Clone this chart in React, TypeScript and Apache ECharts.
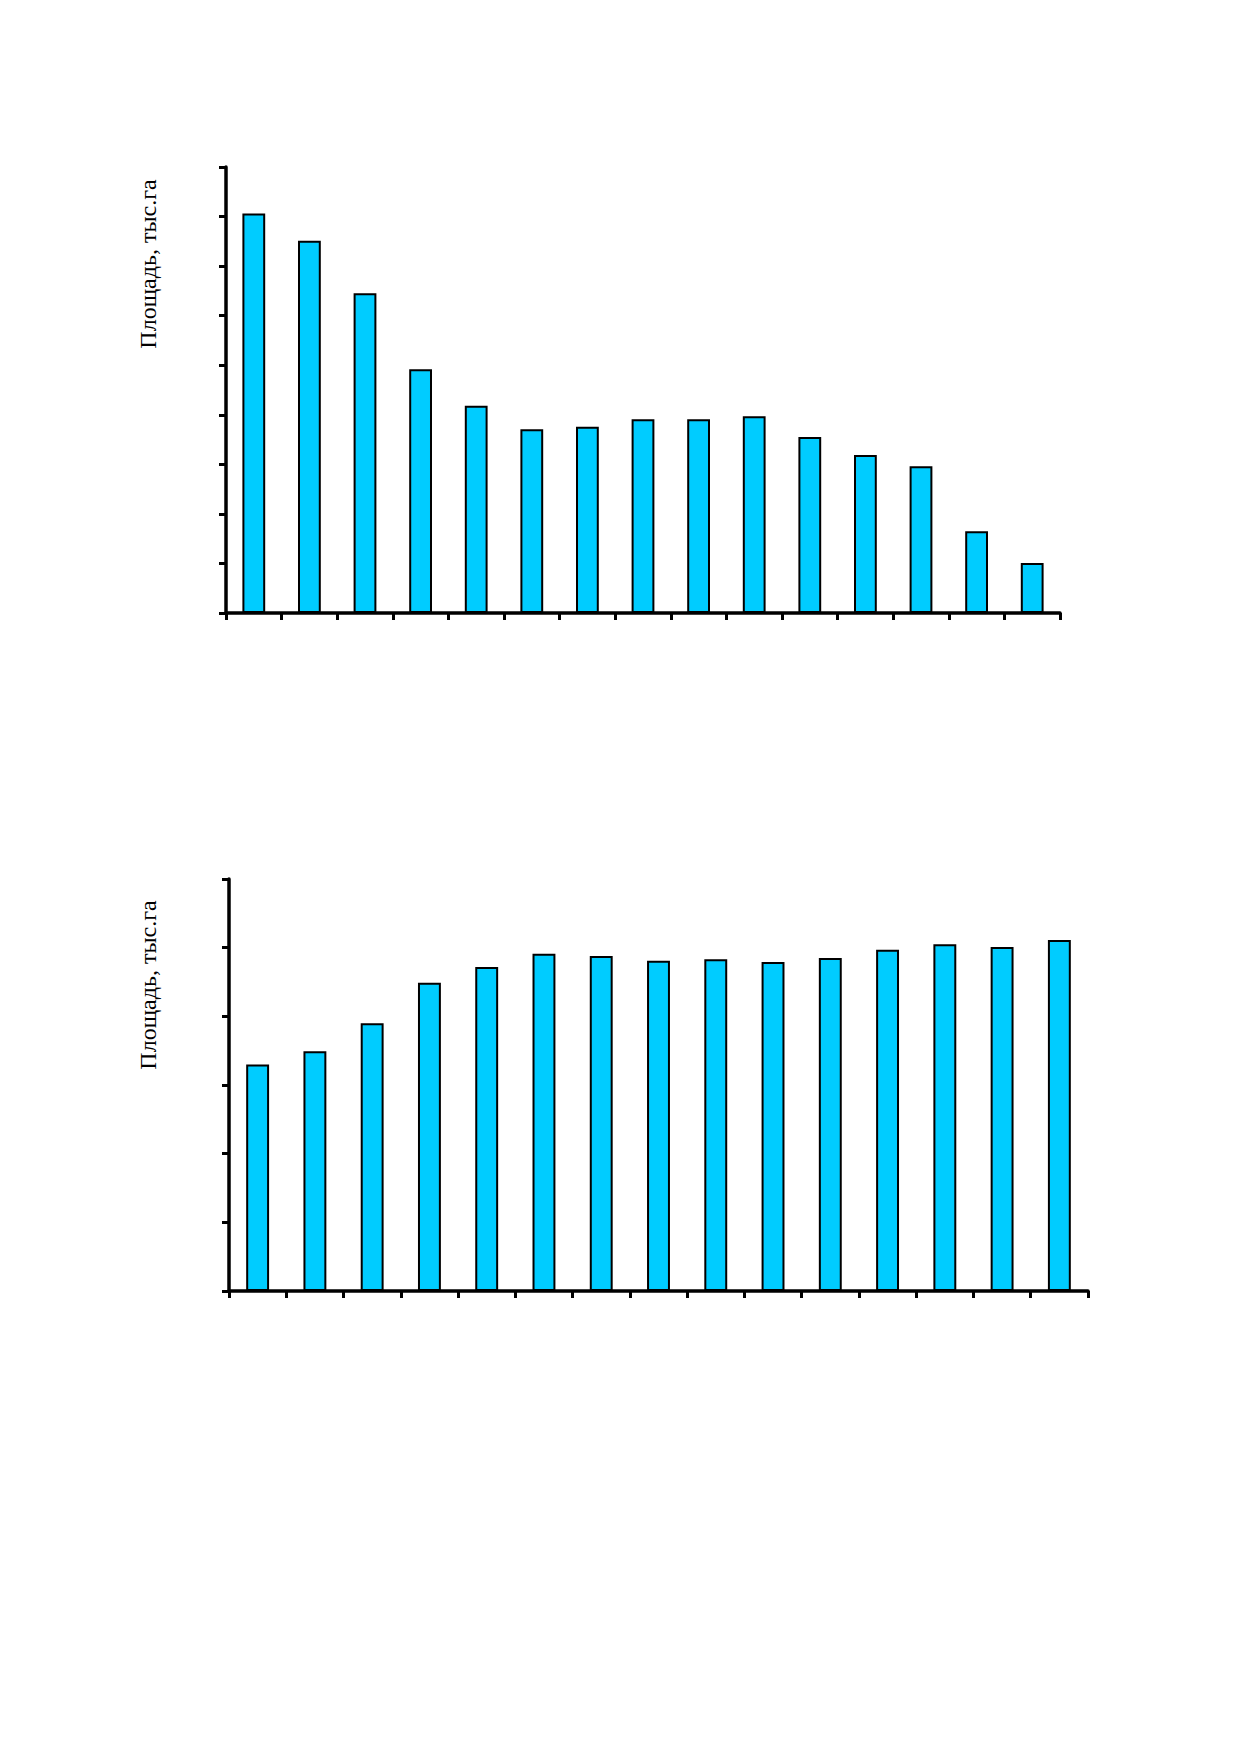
import React, { useEffect, useRef } from "react";
import * as echarts from "echarts";

const categories1 = ["1", "2", "3", "4", "5", "6", "7", "8", "9", "10", "11", "12", "13", "14", "15"];
const values1 = [8.06, 7.51, 6.45, 4.92, 4.18, 3.71, 3.76, 3.91, 3.91, 3.97, 3.55, 3.19, 2.96, 1.65, 1.01];
const categories2 = ["1", "2", "3", "4", "5", "6", "7", "8", "9", "10", "11", "12", "13", "14", "15"];
const values2 = [3.3, 3.49, 3.9, 4.49, 4.72, 4.91, 4.88, 4.81, 4.83, 4.79, 4.85, 4.97, 5.05, 5.01, 5.11];
const yAxisTitle = "Площадь, тыс.га";

const axisLine = { show: true, lineStyle: { color: "#000", width: 3.5 } };
const axisTick = { show: true, inside: false, length: 7, lineStyle: { color: "#000", width: 3 } };

export default function App() {
  const ref = useRef<HTMLDivElement>(null);
  useEffect(() => {
    if (!ref.current) return;
    const chart = echarts.init(ref.current, null, { renderer: "svg" });
    const barStyle = { color: "#00CCFF", borderColor: "#000", borderWidth: 2 };
    chart.setOption({
      animation: false,
      backgroundColor: "#fff",
      grid: [
        { left: 226, top: 167, width: 834, height: 446 },
        { left: 229, top: 879, width: 859, height: 412 },
      ],
      xAxis: [
        {
          type: "category", gridIndex: 0, data: categories1, boundaryGap: true,
          axisLine, axisTick: { ...axisTick, interval: 0 }, axisLabel: { show: false }, splitLine: { show: false },
        },
        {
          type: "category", gridIndex: 1, data: categories2, boundaryGap: true,
          axisLine, axisTick: { ...axisTick, interval: 0 }, axisLabel: { show: false }, splitLine: { show: false },
        },
      ],
      yAxis: [
        {
          type: "value", gridIndex: 0, min: 0, max: 9, interval: 1,
          axisLine, axisTick, axisLabel: { show: false }, splitLine: { show: false },
        },
        {
          type: "value", gridIndex: 1, min: 0, max: 6, interval: 1,
          axisLine, axisTick, axisLabel: { show: false }, splitLine: { show: false },
        },
      ],
      series: [
        { type: "bar", xAxisIndex: 0, yAxisIndex: 0, data: values1, barWidth: "41%", itemStyle: barStyle },
        { type: "bar", xAxisIndex: 1, yAxisIndex: 1, data: values2, barWidth: "40%", itemStyle: barStyle },
      ],
      graphic: [
        {
          type: "text", x: 148, y: 264, rotation: Math.PI / 2,
          style: { text: yAxisTitle, fontFamily: "Liberation Serif", fontSize: 24, fill: "#000", align: "center", verticalAlign: "middle" },
        },
        {
          type: "text", x: 148, y: 985, rotation: Math.PI / 2,
          style: { text: yAxisTitle, fontFamily: "Liberation Serif", fontSize: 24, fill: "#000", align: "center", verticalAlign: "middle" },
        },
      ],
    });
    return () => chart.dispose();
  }, []);
  return <div ref={ref} style={{ position: "fixed", left: 0, top: 0, width: 1239, height: 1754 }} />;
}
